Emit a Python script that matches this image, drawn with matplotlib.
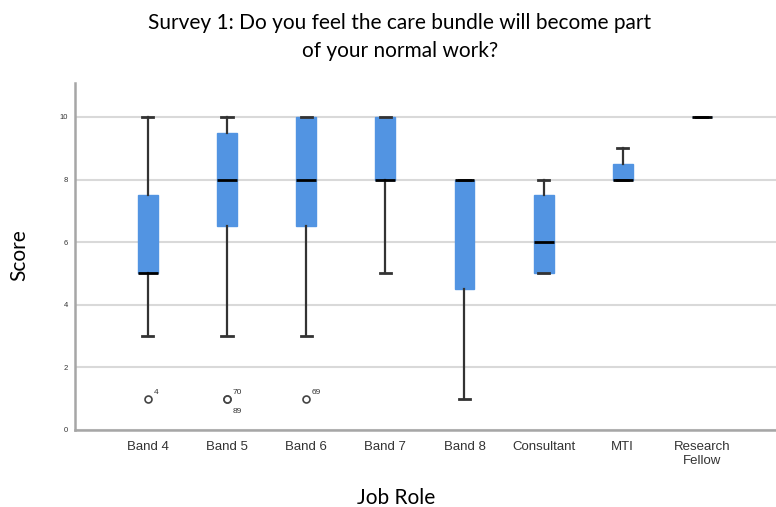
import matplotlib
matplotlib.use("Agg")
import matplotlib.pyplot as plt

# five-number summaries per job role (score 0-10)
roles = ["Band 4", "Band 5", "Band 6", "Band 7", "Band 8", "Consultant", "MTI", "Research\nFellow"]
whislo = [3, 3, 3, 5, 1, 5, 8, 10]
q1 = [5, 6.5, 6.5, 8, 4.5, 5, 8, 10]
med = [5, 8, 8, 8, 8, 6, 8, 10]
q3 = [7.5, 9.5, 10, 10, 8, 7.5, 8.5, 10]
whishi = [10, 10, 10, 10, 8, 8, 9, 10]

# outliers: (role index, score, case id)
outliers = [(0, 1, "4"), (1, 1, "70"), (1, 1, "89"), (2, 1, "69")]

box_color = "#5294e2"

stats = []
for i in range(len(roles)):
    fl = [v for (j, v, _) in outliers if j == i]
    stats.append(dict(whislo=whislo[i], q1=q1[i], med=med[i], q3=q3[i],
                      whishi=whishi[i], fliers=fl))

fig = plt.figure(figsize=(7.76, 5.07), dpi=100)
ax = fig.add_axes([0.0966, 0.152, 0.91, 0.684])

positions = list(range(len(roles)))
ax.bxp(stats, positions=positions, widths=0.25, patch_artist=True,
       showfliers=True,
       boxprops=dict(facecolor=box_color, edgecolor=box_color, linewidth=1),
       medianprops=dict(color="black", linewidth=2),
       whiskerprops=dict(color="#333333", linewidth=1.6),
       capprops=dict(color="#333333", linewidth=2),
       capwidths=0.14,
       flierprops=dict(marker="o", markersize=5, markerfacecolor="white",
                       markeredgecolor="#444444", markeredgewidth=1.2),
       zorder=3)

# case labels next to the outlier circles
for j, v, lab in outliers:
    if lab == "89":
        ax.annotate(lab, (j, v), xytext=(4, -10), textcoords="offset points",
                    fontsize=6, color="#333333", family="Liberation Sans")
    else:
        ax.annotate(lab, (j, v), xytext=(4, 3), textcoords="offset points",
                    fontsize=6, color="#333333", family="Liberation Sans")

ax.set_xlim(-0.92, 8.0)
ax.set_ylim(0, 11.08)
ax.set_yticks([0, 2, 4, 6, 8, 10])
ax.set_xticks(positions)
ax.set_xticklabels(roles, fontsize=9.5, family="Liberation Sans", color="#333333",
                   linespacing=1.25)
for t in ax.get_yticklabels():
    t.set_fontsize(5.5)
    t.set_family("Liberation Sans")
    t.set_color("#333333")
ax.tick_params(axis="y", length=0, pad=5)
ax.tick_params(axis="x", length=0, pad=8)

ax.yaxis.grid(True, color="#d9d9d9", linewidth=1.5, zorder=0)
ax.set_axisbelow(True)
for s in ["top", "right"]:
    ax.spines[s].set_visible(False)
for s in ["left", "bottom"]:
    ax.spines[s].set_color("#a6a6a6")
    ax.spines[s].set_linewidth(1.8)

fig.text(0.515, 0.943, "Survey 1: Do you feel the care bundle will become part",
         ha="center", va="baseline", fontsize=15, family="Lato")
fig.text(0.515, 0.888, "of your normal work?",
         ha="center", va="baseline", fontsize=15, family="Lato")
fig.text(0.0245, 0.497, "Score", rotation=90, ha="center", va="center",
         fontsize=15, family="Lato")
fig.text(0.51, 0.017, "Job Role", ha="center", va="center",
         fontsize=15, family="Lato")

fig.savefig("out.png", dpi=100)
